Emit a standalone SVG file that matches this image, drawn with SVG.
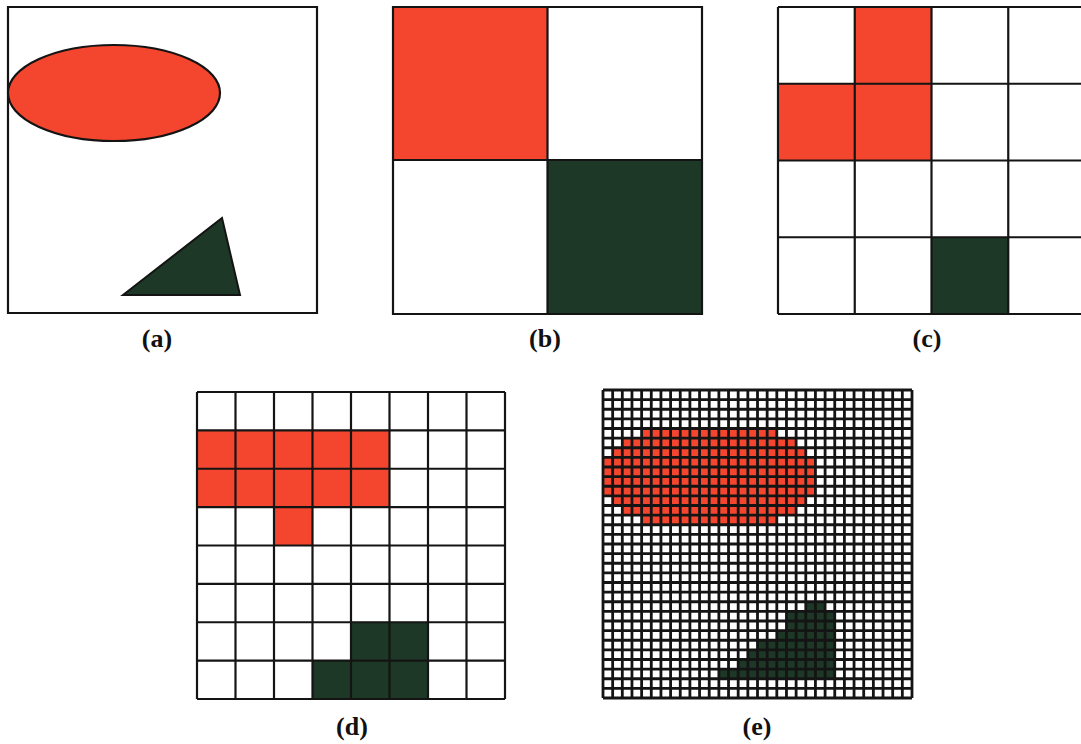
<svg xmlns="http://www.w3.org/2000/svg" width="1081" height="744" viewBox="0 0 1081 744">
<style>
.bg{fill:#ffffff}
.red{fill:#f4462f}
.grn{fill:#1d3826}
.ln{fill:none;stroke:#141414;stroke-width:2.2;vector-effect:non-scaling-stroke}
.lnE{fill:none;stroke:#141414;stroke-width:2.8;vector-effect:non-scaling-stroke}
.lbl{font-family:"Liberation Serif","Times New Roman",serif;font-weight:bold;font-size:26px;fill:#111;text-anchor:middle}
</style>
<rect width="1081" height="744" class="bg"/>

<g id="panel-a">
  <rect x="8" y="7" width="309" height="306" class="ln" fill="none"/>
  <ellipse cx="114" cy="93" rx="106" ry="48" class="red" stroke="#141414" stroke-width="2.2"/>
  <polygon points="123,295 222,218 240,295" class="grn" stroke="#141414" stroke-width="2"/>
  <text x="157" y="347" class="lbl">(a)</text>
</g>

<g id="panel-b">
  <rect x="393" y="7" width="154.5" height="153" class="red"/>
  <rect x="547.5" y="160" width="154.5" height="154" class="grn"/>
  <path d="M393,7H702V314H393Z M547.5,7V314 M393,160H702" class="ln"/>
  <text x="545" y="347" class="lbl">(b)</text>
</g>

<g id="panel-c">
  <g transform="translate(778,7) scale(76.75,76.75)">
    <rect x="1" y="0" width="1" height="1" class="red"/>
    <rect x="0" y="1" width="2" height="1" class="red"/>
    <rect x="2" y="3" width="1" height="1" class="grn"/>
    <path d="M0,0H4 M0,1H4 M0,2H4 M0,3H4 M0,4H4 M0,0V4 M1,0V4 M2,0V4 M3,0V4 M4,0V4" class="ln"/>
  </g>
  <text x="927" y="347" class="lbl">(c)</text>
</g>

<g id="panel-d">
  <g transform="translate(197,392) scale(38.5,38.375)">
    <rect x="0" y="1" width="5" height="2" class="red"/>
    <rect x="2" y="3" width="1" height="1" class="red"/>
    <rect x="4" y="6" width="2" height="1" class="grn"/>
    <rect x="3" y="7" width="3" height="1" class="grn"/>
    <path d="M0,0H8 M0,1H8 M0,2H8 M0,3H8 M0,4H8 M0,5H8 M0,6H8 M0,7H8 M0,8H8 M0,0V8 M1,0V8 M2,0V8 M3,0V8 M4,0V8 M5,0V8 M6,0V8 M7,0V8 M8,0V8" class="ln"/>
  </g>
  <text x="352" y="735" class="lbl">(d)</text>
</g>

<g id="panel-e">
  <g transform="translate(603,390) scale(9.656,9.625)">
    <rect x="4" y="4" width="14" height="1" class="red"/>
    <rect x="2" y="5" width="18" height="1" class="red"/>
    <rect x="1" y="6" width="20" height="1" class="red"/>
    <rect x="0" y="7" width="22" height="4" class="red"/>
    <rect x="1" y="11" width="20" height="1" class="red"/>
    <rect x="2" y="12" width="18" height="1" class="red"/>
    <rect x="4" y="13" width="14" height="1" class="red"/>
    <rect x="21" y="22" width="2" height="1" class="grn"/>
    <rect x="19" y="23" width="5" height="2" class="grn"/>
    <rect x="18" y="25" width="6" height="1" class="grn"/>
    <rect x="16" y="26" width="8" height="1" class="grn"/>
    <rect x="15" y="27" width="9" height="1" class="grn"/>
    <rect x="14" y="28" width="10" height="1" class="grn"/>
    <rect x="12" y="29" width="12" height="1" class="grn"/>
    <path d="M0,0H32 M0,1H32 M0,2H32 M0,3H32 M0,4H32 M0,5H32 M0,6H32 M0,7H32 M0,8H32 M0,9H32 M0,10H32 M0,11H32 M0,12H32 M0,13H32 M0,14H32 M0,15H32 M0,16H32 M0,17H32 M0,18H32 M0,19H32 M0,20H32 M0,21H32 M0,22H32 M0,23H32 M0,24H32 M0,25H32 M0,26H32 M0,27H32 M0,28H32 M0,29H32 M0,30H32 M0,31H32 M0,32H32 M0,0V32 M1,0V32 M2,0V32 M3,0V32 M4,0V32 M5,0V32 M6,0V32 M7,0V32 M8,0V32 M9,0V32 M10,0V32 M11,0V32 M12,0V32 M13,0V32 M14,0V32 M15,0V32 M16,0V32 M17,0V32 M18,0V32 M19,0V32 M20,0V32 M21,0V32 M22,0V32 M23,0V32 M24,0V32 M25,0V32 M26,0V32 M27,0V32 M28,0V32 M29,0V32 M30,0V32 M31,0V32 M32,0V32" class="lnE"/>
  </g>
  <text x="757" y="735" class="lbl">(e)</text>
</g>
</svg>
